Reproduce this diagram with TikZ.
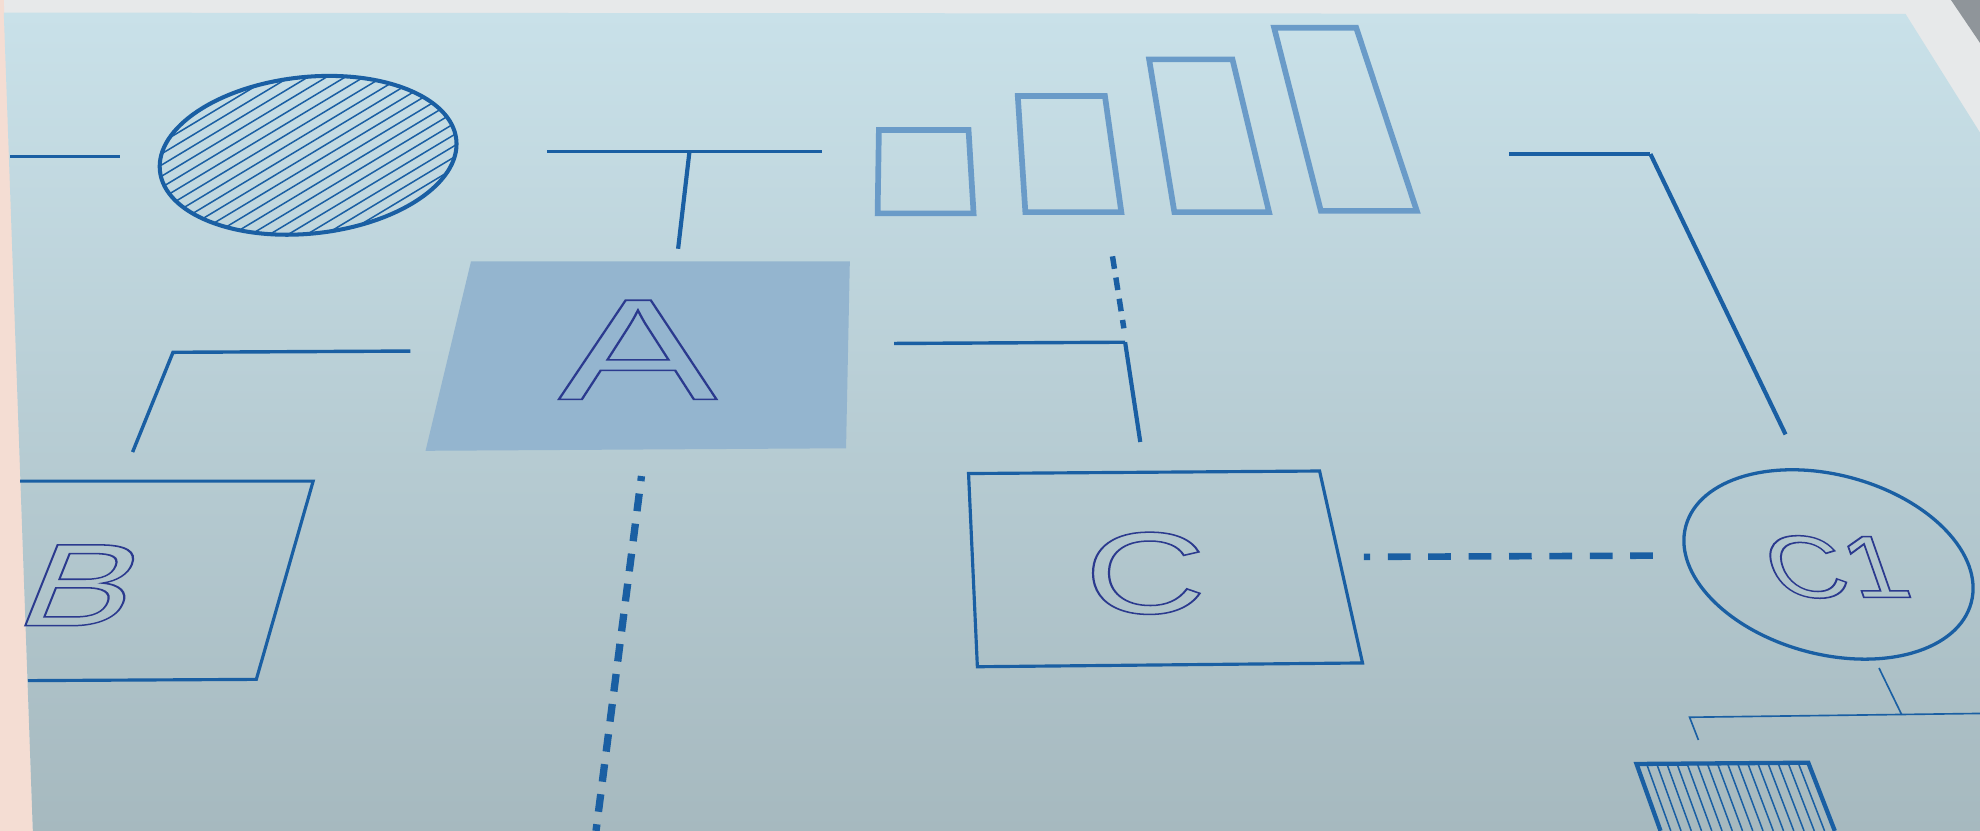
\documentclass[tikz,border=0pt]{standalone}
\usepackage{fontspec}
\setmainfont{Liberation Sans}
\usetikzlibrary{calc}
\definecolor{paperTop}{HTML}{C9E1E9}
\definecolor{paperMid}{HTML}{BCD1D8}
\definecolor{paperBot}{HTML}{A6B9BF}
\definecolor{frame}{HTML}{E7E9EA}
\definecolor{peach}{HTML}{F4DDD3}
\definecolor{cornergrey}{HTML}{8F959A}
\definecolor{lineblue}{HTML}{1A5FA3}
\definecolor{barblue}{HTML}{6A9BC8}
\definecolor{boxfill}{HTML}{94B5CF}
\definecolor{letterc}{HTML}{2B3A8E}
\newcommand{\outl}[1]{\special{pdf:literal direct 1 Tr 1.2 w}#1\special{pdf:literal direct 0 Tr}}
\tikzset{
  conn/.style={draw=lineblue, line width=2.7pt, line join=miter},
  vconn/.style={draw=lineblue, line width=3.3pt, line join=miter},
  thinconn/.style={draw=lineblue, line width=1.3pt},
  bar/.style={draw=barblue, line width=4.5pt, line join=miter},
  outlinebox/.style={draw=lineblue, line width=2.5pt, line join=miter},
  hatchline/.style={draw=lineblue, line width=1.2pt},
  letter/.style={inner sep=0pt, text=letterc},
}
\begin{document}
\begin{tikzpicture}[x=1pt,y=-1pt]
\useasboundingbox (0,0) rectangle (1568,658);
% background
\fill[frame] (0,0) rectangle (1568,658);
\fill[cornergrey] (1545,0) -- (1568,0) -- (1568,34) -- cycle;
\fill[peach] (0,0) -- (3,0) -- (26,658) -- (0,658) -- cycle;
\shade[top color=paperTop, middle color=paperMid, bottom color=paperBot]
  (3,10) -- (1509,11) -- (1568,105) -- (1568,658) -- (26,658) -- cycle;

% top-left short line
\coordinate (l1a) at (8,124);
\coordinate (l1b) at (95,124);
\draw[conn, line width=2.2pt] (l1a) -- (l1b);

% hatched ellipse
\coordinate (he) at (244,123);
\begin{scope}
  \clip[rotate around={6:(he)}] (he) ellipse [x radius=118, y radius=62];
  \begin{scope}[shift={(he)}, rotate=31]
    \foreach \k in {-17,...,17} \draw[hatchline] (-200,\k*7.6) -- (200,\k*7.6);
  \end{scope}
\end{scope}
\draw[draw=lineblue, line width=3.2pt, rotate around={6:(he)}] (he) ellipse [x radius=118, y radius=62];

% T connector
\coordinate (t1) at (433,120);
\coordinate (t2) at (651,120);
\coordinate (t3) at (546,120);
\coordinate (t4) at (537,197);
\draw[conn] (t1) -- (t2);
\draw[vconn] (t3) -- (t4);

% box A
\fill[boxfill] (373,207) -- (673,207) -- (670,355) -- (337,357) -- cycle;
\node[letter] (A) at (505,277) {\fontsize{114}{114}\selectfont\scalebox{1.65}[1]{\outl{A}}};

% bars
\draw[bar] (696,103) -- (767,103) -- (771,169) -- (695,169) -- cycle;
\draw[bar] (806,76) -- (875,76) -- (888,168) -- (812,168) -- cycle;
\draw[bar] (910,47) -- (976,47) -- (1005,168) -- (930,168) -- cycle;
\draw[bar] (1009,22) -- (1074,22) -- (1122,167) -- (1046,167) -- cycle;

% dotted line under bars
\coordinate (d1) at (881,203);
\coordinate (d2) at (890,260);
\draw[draw=lineblue, line width=4.3pt, dash pattern=on 10pt off 7pt] (d1) -- (d2);

% connector to C
\coordinate (c1a) at (708,272);
\coordinate (c1b) at (891,271);
\coordinate (c1c) at (903,350);
\draw[conn] (c1a) -- (c1b);
\draw[vconn] (c1b) -- (c1c);

% left bracket
\coordinate (b1) at (105,358);
\coordinate (b2) at (137,279);
\coordinate (b3) at (325,278);
\draw[conn] (b1) -- (b2) -- (b3);

% box B (cut by paper edge)
\draw[outlinebox] (16,381) -- (248,381) -- (203,538) -- (22,539);
\node[letter, xslant=0.4, transform shape] (B) at (66,463.5) {\fontsize{93}{93}\selectfont\scalebox{1.42}[1]{\outl{B}}};

% dashed line below A
\coordinate (da1) at (508,377);
\coordinate (da2) at (472,658);
\draw[draw=lineblue, line width=5.8pt, dash pattern=on 14pt off 10pt, dash phase=10pt] (da1) -- (da2);

% box C
\draw[outlinebox] (767,375) -- (1045,373) -- (1079,525) -- (774,528) -- cycle;
\node[letter] (C) at (907,454) {\fontsize{92}{92}\selectfont\scalebox{1.45}[1]{\outl{C}}};

% dashed C - C1
\coordinate (dc1) at (1080,441);
\coordinate (dc2) at (1314,440);
\draw[draw=lineblue, line width=5.2pt, dash pattern=on 18pt off 14pt, dash phase=13pt] (dc1) -- (dc2);

% right connector
\coordinate (r1) at (1195,122);
\coordinate (r2) at (1307,122);
\coordinate (r3) at (1414,344);
\draw[conn] (r1) -- (r2);
\draw[vconn] (r2) -- (r3);

% ellipse C1
\coordinate (ce) at (1448,447);
\draw[draw=lineblue, line width=2.6pt, rotate around={-15:(ce)}] (ce) ellipse [x radius=117, y radius=71];
\node[letter, xslant=-0.35, transform shape] (C1) at (1454,449) {\fontsize{70}{70}\selectfont\scalebox{1.22}[1]{\outl{C1}}};

% small connector below C1
\coordinate (s1) at (1488,529);
\coordinate (s2) at (1506,566);
\coordinate (s3) at (1345,586);
\coordinate (s4) at (1338,568);
\coordinate (s5) at (1568,565);
\draw[thinconn] (s1) -- (s2);
\draw[thinconn] (s3) -- (s4) -- (s5);

% hatched box at bottom
\coordinate (hbl) at (1315,658);
\coordinate (htl) at (1296,605);
\coordinate (htr) at (1432,604);
\coordinate (hbr) at (1453,658);
\foreach \k in {1,...,16} \draw[hatchline] ($(htl)!\k/17!(htr)$) -- ($(hbl)!\k/17!(hbr)$);
\draw[outlinebox, line width=3.4pt] (hbl) -- (htl) -- (htr) -- (hbr);
\end{tikzpicture}
\end{document}
